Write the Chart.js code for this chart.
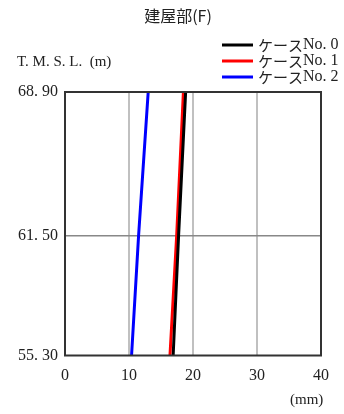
<!DOCTYPE html>
<html>
<head>
<meta charset="utf-8">
<script src="https://cdn.jsdelivr.net/npm/chart.js@4/dist/chart.umd.min.js"></script>
<style>
  html, body { margin: 0; padding: 0; background: #fff; }
  #wrap { width: 344px; height: 414px; position: relative; }
</style>
</head>
<body>
<div id="wrap"><canvas id="chart"></canvas></div>
<script>
// data
const levels = [55.30, 61.50, 68.90];          // T.M.S.L. (m)
const case0 = [16.9, 17.75, 18.85];             // ケースNo.0
const case1 = [16.4, 17.45, 18.5];              // ケースNo.1
const case2 = [10.4, 11.5, 13.0];               // ケースNo.2
const seriesNames = ['ケースNo. 0', 'ケースNo. 1', 'ケースNo. 2'];
const seriesColors = ['#000000', '#ff0000', '#0000ff'];
const yTicks = [55.30, 61.50, 68.90];
const yTickLabels = ['55. 30', '61. 50', '68. 90'];
const xMin = 0, xMax = 40, xStep = 10;

const serif = '"Liberation Serif", "DejaVu Serif", serif';
const jpFont = '"Noto Sans CJK JP", sans-serif';

const toPoints = (xs) => xs.map((x, i) => ({ x: x, y: levels[i] }));

const extras = {
  id: 'extras',
  afterDraw(chart) {
    const ctx = chart.ctx;
    const a = chart.chartArea;
    ctx.save();
    // frame
    ctx.strokeStyle = '#333';
    ctx.lineWidth = 2;
    ctx.strokeRect(a.left, a.top, a.right - a.left, a.bottom - a.top);

    ctx.fillStyle = '#222';
    ctx.textBaseline = 'middle';
    // title
    ctx.font = '16px ' + jpFont;
    ctx.textAlign = 'center';
    ctx.fillText('建屋部(F)', 178, 16);
    // y axis title
    ctx.font = '15px ' + serif;
    ctx.textAlign = 'left';
    ctx.fillText('T. M. S. L.  (m)', 17, 62);
    // x unit
    ctx.fillText('(mm)', 290, 400);

    // legend
    seriesNames.forEach((name, i) => {
      const y = 45 + i * 16;
      ctx.strokeStyle = seriesColors[i];
      ctx.lineWidth = 3;
      ctx.beginPath();
      ctx.moveTo(222, y);
      ctx.lineTo(253, y);
      ctx.stroke();
      ctx.fillStyle = '#222';
      ctx.font = '15px ' + jpFont;
      ctx.fillText('ケース', 258, y);
      const w = ctx.measureText('ケース').width;
      ctx.font = '16px ' + serif;
      ctx.fillText(name.replace('ケース', ''), 258 + w, y);
    });
    ctx.restore();
  }
};

new Chart(document.getElementById('chart'), {
  type: 'scatter',
  data: {
    datasets: [case0, case1, case2].map((xs, i) => ({
      label: seriesNames[i],
      data: toPoints(xs),
      showLine: true,
      borderColor: seriesColors[i],
      backgroundColor: seriesColors[i],
      borderWidth: 3,
      pointRadius: 0,
      order: i
    }))
  },
  options: {
    responsive: true,
    maintainAspectRatio: false,
    animation: false,
    layout: { padding: { top: 92, right: 23, left: 0, bottom: 0 } },
    plugins: {
      legend: { display: false },
      title: { display: false },
      tooltip: { enabled: false }
    },
    scales: {
      x: {
        type: 'linear',
        min: xMin,
        max: xMax,
        ticks: {
          stepSize: xStep,
          color: '#222',
          padding: 11,
          font: { family: serif, size: 16 }
        },
        border: { display: false },
        grid: {
          drawTicks: false,
          lineWidth: 2,
          color: (c) => (c.tick && (c.tick.value === xMin || c.tick.value === xMax)) ? 'rgba(0,0,0,0)' : '#c0c0c0'
        },
        afterFit(axis) { axis.height = 58.5; }
      },
      y: {
        type: 'linear',
        min: yTicks[0],
        max: yTicks[yTicks.length - 1],
        afterBuildTicks(axis) {
          axis.ticks = yTicks.map(v => ({ value: v }));
        },
        ticks: {
          color: '#222',
          padding: 7,
          font: { family: serif, size: 16 },
          callback: (v) => {
            const i = yTicks.indexOf(v);
            return i >= 0 ? yTickLabels[i] : '';
          }
        },
        border: { display: false },
        grid: {
          drawTicks: false,
          lineWidth: 1.5,
          color: (c) => (c.tick && c.tick.value === yTicks[1]) ? '#888' : 'rgba(0,0,0,0)'
        },
        afterFit(axis) { axis.width = 65; }
      }
    }
  },
  plugins: [extras]
});
</script>
</body>
</html>
